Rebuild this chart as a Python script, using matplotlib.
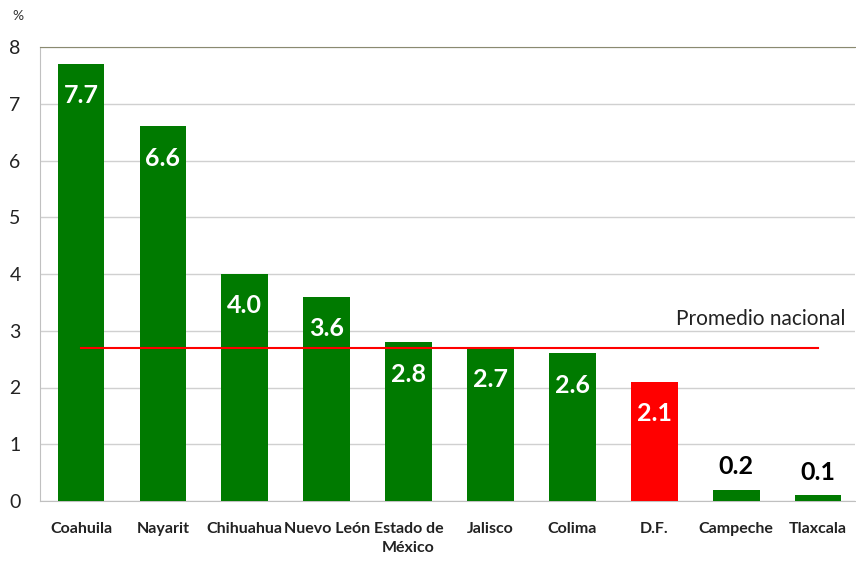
import matplotlib
matplotlib.use("Agg")
import matplotlib.pyplot as plt

categories = ["Coahuila", "Nayarit", "Chihuahua", "Nuevo León", "Estado de\nMéxico",
              "Jalisco", "Colima", "D.F.", "Campeche", "Tlaxcala"]
values = [7.7, 6.6, 4.0, 3.6, 2.8, 2.7, 2.6, 2.1, 0.2, 0.1]
highlight = "D.F."
average = 2.7
avg_label = "Promedio nacional"
yticks = [0, 1, 2, 3, 4, 5, 6, 7, 8]

plt.rcParams['font.family'] = ['Lato', 'DejaVu Sans']

green = "#007A00"
red = "#FF0000"

fig = plt.figure(figsize=(8.56, 5.64), dpi=100)
ax = fig.add_axes([40/856, 63/564, 815/856, 454/564])

colors = [red if c == highlight else green for c in categories]
x = list(range(len(categories)))
ax.bar(x, values, width=0.57, color=colors, zorder=3)

ax.set_xlim(-0.5, 9.45)
ax.set_ylim(0, 8)
ax.set_yticks(yticks)
ax.set_yticklabels([str(t) for t in yticks], fontsize=14, color="#222222")
ax.set_xticks(x)
ax.set_xticklabels(categories, fontsize=11.5, fontweight="bold", color="#222222", linespacing=1.5)
ax.tick_params(axis="x", length=0, pad=15)
ax.tick_params(axis="y", length=0, pad=14)

ax.grid(axis="y", color="#d0d0d0", linewidth=1, zorder=0)
ax.spines["right"].set_visible(False)
ax.spines["top"].set_color("#8a8a70")
ax.spines["left"].set_color("#c0c0c0")
ax.spines["bottom"].set_color("#c0c0c0")

for xi, v in zip(x, values):
    if v > 1:
        ax.text(xi, v - 0.36, f"{v:.1f}", ha="center", va="top", color="white",
                fontsize=18, fontweight="bold", zorder=4)
    else:
        ax.text(xi, v + 0.2, f"{v:.1f}", ha="center", va="bottom", color="black",
                fontsize=18, fontweight="bold", zorder=4)

ax.plot([x[0], x[-1]], [average, average], color=red, linewidth=1.5, zorder=5)
ax.text(x[-1] + 0.33, 3.03, avg_label, ha="right", va="bottom", fontsize=15, color="#222222")

fig.text(12/856, 1 - 16/564, "%", fontsize=10, color="#333333", ha="left", va="center")

fig.savefig("out.png", dpi=100)
